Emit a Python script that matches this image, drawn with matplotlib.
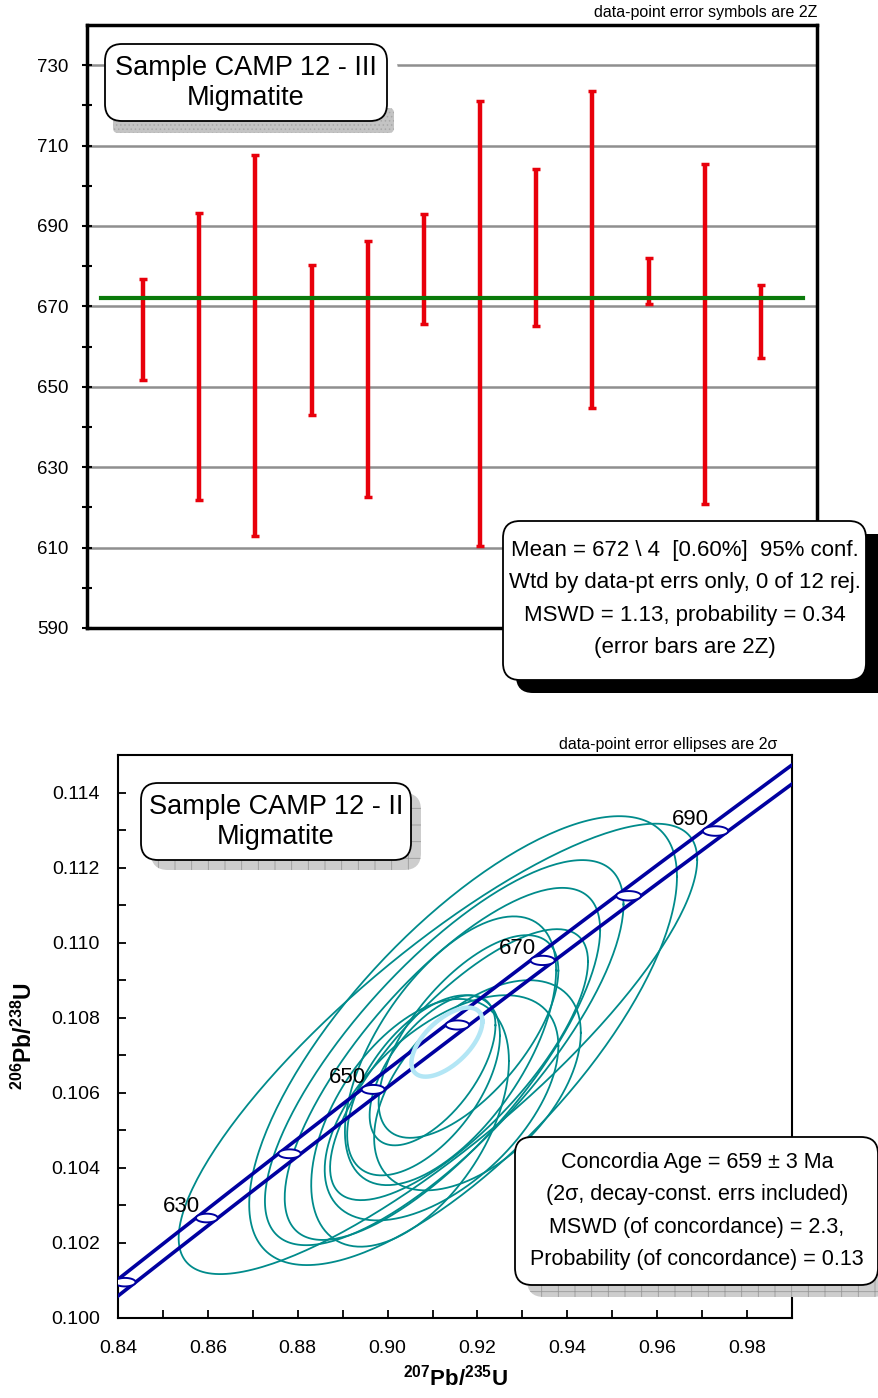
import matplotlib
matplotlib.use("Agg")
import matplotlib.pyplot as plt
import numpy as np
from matplotlib.patches import FancyBboxPatch

plt.rcParams["font.family"] = ["Liberation Sans", "DejaVu Sans"]
plt.rcParams["mathtext.fontset"] = "custom"
plt.rcParams["mathtext.rm"] = "Liberation Sans"
plt.rcParams["mathtext.bf"] = "Liberation Sans:bold"
plt.rcParams["hatch.linewidth"] = 0.6

# ---- top panel: weighted mean of 206Pb/238U ages (Sample CAMP 12 - III)
spot_ages = [664.3, 657.6, 660.3, 661.6, 654.4, 679.3, 665.7, 684.6, 684.2, 676.3, 663.1, 666.2]
spot_err2s = [12.6, 35.7, 47.3, 18.6, 31.8, 13.6, 55.3, 19.5, 39.4, 5.8, 42.2, 9.1]
mean_age = 672.0
age_ticks = [590, 610, 630, 650, 670, 690, 710, 730]

# ---- bottom panel: concordia (Sample CAMP 12 - II)
# centre x (207/235), centre y (206/238), 2s x, 2s y, rho
ell_x = [0.9112, 0.9168, 0.9126, 0.9122, 0.9140, 0.9159, 0.9180, 0.9120, 0.9080, 0.9100, 0.9050, 0.9200]
ell_y = [0.10717, 0.10739, 0.10707, 0.10677, 0.10712, 0.10675, 0.10750, 0.10560, 0.10620, 0.10660, 0.10520, 0.10620]
ell_sx = [0.0577, 0.0476, 0.0399, 0.0351, 0.0235, 0.0287, 0.0200, 0.0260, 0.0170, 0.0140, 0.0220, 0.0230]
ell_sy = [0.00600, 0.00598, 0.00513, 0.00469, 0.00358, 0.00361, 0.00270, 0.00300, 0.00240, 0.00200, 0.00330, 0.00280]
ell_rho = [0.84, 0.73, 0.77, 0.76, 0.60, 0.76, 0.65, 0.55, 0.55, 0.60, 0.50, 0.50]
conc_age_ell = (0.9132, 0.10735, 0.0079, 0.00092, 0.60)

lambda235 = 9.8485e-10
lambda238 = 1.55125e-10
rel_err235 = 0.0021
rel_err238 = 0.00107
marker_ages = [620, 630, 640, 650, 660, 670, 680, 690]
labelled_ages = [630, 650, 670, 690]

W, H = 879, 1398
fig = plt.figure(figsize=(W / 100, H / 100), dpi=100)


def px_axes(left, top, right, bottom):
    return fig.add_axes([left / W, 1 - bottom / H, (right - left) / W, (bottom - top) / H])


def ellipse_xy(cx, cy, sx, sy, rho, n=240):
    th = np.linspace(0, 2 * np.pi, n)
    return cx + sx * np.cos(th), cy + sy * (rho * np.cos(th) + np.sqrt(1 - rho ** 2) * np.sin(th))


def rbox(left, top, right, bottom, face, edge, lw, z, hatch=None, rs=0.17):
    p = FancyBboxPatch((left / 100, (H - bottom) / 100), (right - left) / 100, (bottom - top) / 100,
                       boxstyle=f"round,pad=0,rounding_size={rs}", transform=fig.dpi_scale_trans,
                       facecolor=face, edgecolor=edge, linewidth=lw, hatch=hatch, zorder=z)
    fig.add_artist(p)


def boxtext(cx, cy, s, size, ls=1.45):
    fig.text(cx / W, 1 - cy / H, s, ha="center", va="center", fontsize=size, linespacing=ls, zorder=20)


# ================= top panel =================
ax1 = px_axes(87, 25, 817, 628)
xs = np.arange(1, len(spot_ages) + 1)
for a in age_ticks[1:]:
    ax1.axhline(a, color="#8f8f8f", lw=1.8, zorder=1)
ax1.errorbar(xs, spot_ages, yerr=spot_err2s, fmt="none", ecolor="#e8000b", elinewidth=3.2,
             capsize=3, capthick=2.5, zorder=3)
ax1.plot([0.25, 12.75], [mean_age, mean_age], color="#0a7a0a", lw=3, zorder=4)
ax1.set_xlim(0, 13)
ax1.set_ylim(590, 740)
ax1.set_xticks([])
ax1.set_yticks(age_ticks)
ax1.set_yticks(np.arange(600, 740, 20), minor=True)
ax1.tick_params(axis="y", which="both", direction="inout", length=7, width=1.5, labelsize=13.5, pad=10)
for s in ax1.spines.values():
    s.set_linewidth(2.5)
fig.text(817 / W, 1 - 12 / H, "data-point error symbols are 2Z", ha="right", va="center", fontsize=11.5)

# title box with a stippled strip underneath
rbox(113, 54, 398, 133, "white", "none", 0, 9)
rbox(113, 108, 394, 133, "#c4c4c4", "#a8a8a8", 0, 10, hatch="....", rs=0.05)
rbox(105, 44, 387, 121, "white", "black", 1.3, 11)
boxtext(246, 83, "Sample CAMP 12 - III\nMigmatite", 19.5, ls=1.2)

rbox(516, 534, 895, 693, "black", "black", 0, 10)
rbox(503, 521, 866, 680, "white", "black", 1.3, 11)
boxtext(685, 599, "Mean = 672 \\ 4  [0.60%]  95% conf.\nWtd by data-pt errs only, 0 of 12 rej.\n"
        "MSWD = 1.13, probability = 0.34\n(error bars are 2Z)", 16, ls=1.7)

# ================= bottom panel =================
ax2 = px_axes(118, 755, 792, 1318)
t = np.linspace(600e6, 720e6, 400)
yc = np.expm1(lambda238 * t)
ax2.plot(np.expm1(lambda235 * (1 - rel_err235) * t), yc, color="#0000a0", lw=2.6, zorder=3)
ax2.plot(np.expm1(lambda235 * (1 + rel_err235) * t), yc, color="#0000a0", lw=2.6, zorder=3)

for cx, cy, sx, sy, r in zip(ell_x, ell_y, ell_sx, ell_sy, ell_rho):
    ex, ey = ellipse_xy(cx, cy, sx, sy, r)
    ax2.plot(ex, ey, color="#008b8b", lw=1.3, zorder=2)

ex, ey = ellipse_xy(*conc_age_ell)
ax2.plot(ex, ey, color="#b3e6f5", lw=3.2, zorder=4)

for age in marker_ages:
    tt = age * 1e6
    mx, my = np.expm1(lambda235 * tt), np.expm1(lambda238 * tt)
    sx = lambda235 * tt * np.exp(lambda235 * tt) * rel_err235
    sy = lambda238 * tt * np.exp(lambda238 * tt) * rel_err238
    ex, ey = ellipse_xy(mx, my, sx, sy, 0.0)
    ax2.fill(ex, ey, facecolor="white", edgecolor="#0000a0", lw=1.4, zorder=5)
    if age in labelled_ages:
        ax2.annotate(str(age), (mx, my), xytext=(-5, 1), textcoords="offset points",
                     ha="right", va="bottom", fontsize=16, zorder=6)

ax2.set_xlim(0.84, 0.99)
ax2.set_ylim(0.100, 0.115)
ax2.set_xticks(np.arange(0.84, 0.981, 0.02))
ax2.set_xticks(np.arange(0.85, 0.99, 0.02), minor=True)
ax2.set_yticks(np.arange(0.100, 0.1141, 0.002))
ax2.set_yticks(np.arange(0.101, 0.115, 0.002), minor=True)
ax2.set_xticklabels([f"{v:.2f}" for v in np.arange(0.84, 0.981, 0.02)])
ax2.set_yticklabels([f"{v:.3f}" for v in np.arange(0.100, 0.1141, 0.002)])
ax2.tick_params(which="both", direction="in", length=6, width=1.3, labelsize=14)
ax2.tick_params(axis="x", pad=16)
ax2.tick_params(axis="y", pad=13)
for s in ax2.spines.values():
    s.set_linewidth(1.5)
ax2.set_xlabel(r"$\mathbf{^{207}Pb/^{235}U}$", fontsize=16, labelpad=5)
ax2.set_ylabel(r"$\mathbf{^{206}Pb/^{238}U}$", fontsize=16.5, labelpad=10)
fig.text(777 / W, 1 - 744 / H, "data-point error ellipses are 2\u03c3", ha="right", va="center", fontsize=11.5)

rbox(151, 793, 421, 870, "#cdcdcd", "#9a9a9a", 0, 10, hatch="+")
rbox(141, 783, 411, 860, "white", "black", 1.3, 11)
boxtext(276, 822, "Sample CAMP 12 - II\nMigmatite", 19.5, ls=1.2)

rbox(527, 1149, 890, 1297, "#cdcdcd", "#9a9a9a", 0, 10, hatch="+")
rbox(515, 1137, 878, 1285, "white", "black", 1.3, 11)
boxtext(697, 1211, "Concordia Age = 659 \u00b1 3 Ma\n(2\u03c3, decay-const. errs included)\n"
        "MSWD (of concordance) = 2.3,\nProbability (of concordance) = 0.13", 15.5, ls=1.7)

fig.savefig("out.png", dpi=100)
